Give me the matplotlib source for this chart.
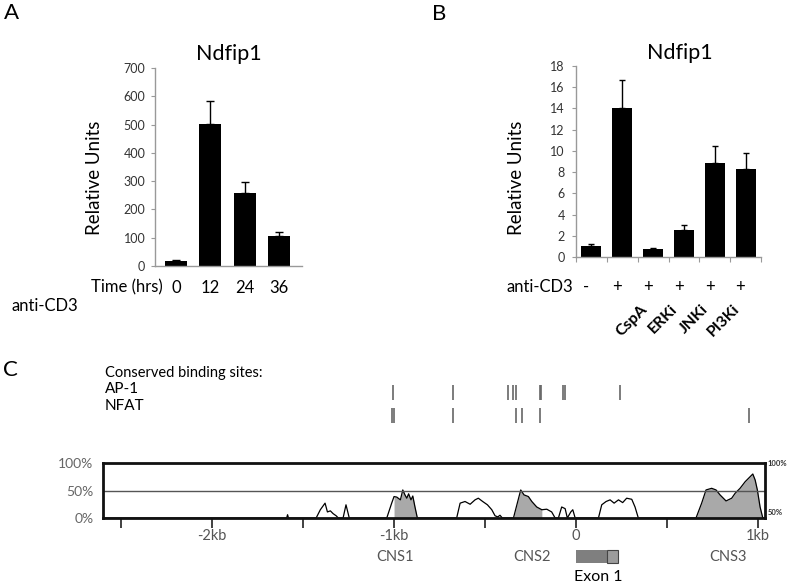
import matplotlib
matplotlib.use("Agg")
import matplotlib.pyplot as plt
from matplotlib.patches import Rectangle
import numpy as np

plt.rcParams['font.family'] = ['Lato', 'DejaVu Sans']

# panel A data
time_labels = ['0', '12', '24', '36']
time_vals = [18, 502, 258, 105]
time_err_top = [20, 582, 298, 120]

# panel B data
cd3_signs = ['-', '+', '+', '+', '+', '+']
inhib_labels = ['', '', 'CspA', 'ERKi', 'JNKi', 'PI3Ki']
inhib_vals = [1.05, 14.05, 0.72, 2.55, 8.85, 8.25]
inhib_err_top = [1.22, 16.7, 0.82, 3.0, 10.5, 9.8]

# panel C data (positions in kb relative to exon 1, conservation in %)
ap1_sites = [-1.004, -0.677, -0.372, -0.345, -0.330, -0.198, -0.193, -0.073, -0.060, 0.242]
nfat_sites = [-1.011, -1.0, -0.674, -0.330, -0.298, -0.198, 0.952]
cons_kb = [-2.6, -1.59, -1.585, -1.58, -1.428, -1.405, -1.379, -1.366, -1.35, -1.335,
           -1.318, -1.306, -1.28, -1.264, -1.246, -1.04, -1.013, -1.0, -0.985, -0.965,
           -0.952, -0.94, -0.93, -0.92, -0.907, -0.897, -0.885, -0.872, -0.656, -0.637,
           -0.61, -0.582, -0.555, -0.537, -0.513, -0.487, -0.463, -0.445, -0.43, -0.418,
           -0.405, -0.344, -0.304, -0.286, -0.262, -0.243, -0.216, -0.188, -0.161, -0.134,
           -0.115, -0.097, -0.079, -0.06, -0.048, -0.029, -0.018, -0.005, 0.123, 0.141,
           0.165, 0.187, 0.209, 0.233, 0.256, 0.278, 0.306, 0.324, 0.342, 0.659,
           0.69, 0.714, 0.745, 0.769, 0.791, 0.824, 0.855, 0.874, 0.901, 0.929,
           0.956, 0.971, 0.984, 0.996, 1.011, 1.026, 1.038]
cons_pct = [0, 0, 6, 0, 0, 15, 27, 11, 13, 8,
            4, 0, 0, 24, 0, 0, 27, 39, 38, 33,
            51, 42, 36, 44, 33, 40, 20, 0, 0, 27,
            30, 25, 33, 36, 30, 24, 15, 4, 2, 5,
            0, 0, 51, 42, 39, 30, 20, 15, 16, 11,
            0, 0, 20, 17, 0, 11, 15, 0, 0, 24,
            30, 33, 27, 33, 28, 36, 34, 20, 0, 0,
            27, 51, 54, 51, 42, 31, 36, 45, 54, 66,
            75, 80, 69, 51, 20, 0, 0]
cns_ranges = [(-1.0, -0.872), (-0.344, -0.188), (0.659, 1.026)]
cns_names = ['CNS1', 'CNS2', 'CNS3']
cns_label_x = [-0.995, -0.242, 0.835]
kb_ticks = [-2.5, -2.0, -1.5, -1.0, -0.5, 0.0, 0.5, 1.0]
kb_labels = ['', '-2kb', '', '-1kb', '', '0', '', '1kb']

W, H = 800, 586
fig = plt.figure(figsize=(8, 5.86), dpi=100)


def rect(l, t, r, b):
    return [l / W, 1 - b / H, (r - l) / W, (b - t) / H]


def ftext(x, y, s, **kw):
    kw.setdefault('ha', 'center')
    kw.setdefault('va', 'center')
    fig.text(x / W, 1 - y / H, s, **kw)


def style_bar_axes(ax):
    for side in ['top', 'right']:
        ax.spines[side].set_visible(False)
    for side in ['left', 'bottom']:
        ax.spines[side].set_color('#999999')
        ax.spines[side].set_linewidth(1)
    ax.tick_params(axis='y', length=3, color='#999999', labelsize=9,
                   labelcolor='#333333', pad=4)


# ---- A ----
ax_a = fig.add_axes(rect(155, 68, 302, 266))
xa = np.arange(len(time_vals))
ax_a.bar(xa, time_vals, width=0.64, color='black')
ax_a.errorbar(xa, time_vals,
              yerr=[np.zeros(len(time_vals)), np.array(time_err_top) - np.array(time_vals)],
              fmt='none', ecolor='black', elinewidth=1, capsize=3, capthick=1)
ax_a.set_xlim(-0.61, 3.66)
ax_a.set_ylim(0, 700)
ax_a.set_yticks(range(0, 701, 100))
ax_a.set_xticks(xa, time_labels)
style_bar_axes(ax_a)
ax_a.tick_params(axis='x', length=0, labelsize=12, pad=10)

ftext(11, 13, 'A', fontsize=16)
ftext(229, 54, 'Ndfip1', fontsize=15.5)
ftext(94, 178, 'Relative Units', fontsize=13.5, rotation=90)
ftext(163, 287, 'Time (hrs)', fontsize=12, ha='right')
ftext(12, 306, 'anti-CD3', fontsize=12, ha='left')

# ---- B ----
ax_b = fig.add_axes(rect(576, 66, 761, 257))
xb = np.arange(len(inhib_vals))
ax_b.bar(xb, inhib_vals, width=0.65, color='black')
ax_b.errorbar(xb, inhib_vals,
              yerr=[np.zeros(len(inhib_vals)), np.array(inhib_err_top) - np.array(inhib_vals)],
              fmt='none', ecolor='black', elinewidth=1, capsize=2.3, capthick=1)
ax_b.set_xlim(-0.5, 5.5)
ax_b.set_ylim(0, 18)
ax_b.set_yticks(range(0, 19, 2))
ax_b.set_xticks(np.arange(-0.5, 6, 1))
ax_b.set_xticklabels([])
style_bar_axes(ax_b)
ax_b.tick_params(axis='x', length=3.5, color='#999999')
ax_b.tick_params(axis='y', pad=5)
for i in range(len(xb)):
    ax_b.text(i - 0.17, -0.158, cd3_signs[i], transform=ax_b.get_xaxis_transform(),
              ha='center', va='center', fontsize=12)
    if inhib_labels[i]:
        ax_b.text(i - 0.27, -0.262, inhib_labels[i], transform=ax_b.get_xaxis_transform(),
                  ha='right', va='center', rotation=45, rotation_mode='anchor',
                  fontsize=11.5, fontweight='bold')

ftext(439, 14, 'B', fontsize=16)
ftext(680, 53, 'Ndfip1', fontsize=15.5)
ftext(517, 178, 'Relative Units', fontsize=13.5, rotation=90)
ftext(573, 287, 'anti-CD3', fontsize=12, ha='right')

# ---- C ----
ftext(10, 370, 'C', fontsize=16)
ftext(105, 373, 'Conserved binding sites:', fontsize=10.5, ha='left')
ftext(105, 389, 'AP-1', fontsize=11, ha='left')
ftext(105, 406, 'NFAT', fontsize=11, ha='left')

ax_c = fig.add_axes(rect(103, 463, 765, 518))
ax_c.set_xlim(-2.599, 1.038)
ax_c.set_ylim(0, 100)
kb = np.array(cons_kb)
pct = np.array(cons_pct)
for lo, hi in cns_ranges:
    m = (kb >= lo) & (kb <= hi)
    ax_c.fill_between(kb[m], 0, pct[m], color='#a9a9a9', linewidth=0)
ax_c.plot(kb, pct, color='black', linewidth=0.9)
ax_c.axhline(50, color='#555555', linewidth=1)
for s in ax_c.spines.values():
    s.set_linewidth(2)
    s.set_color('#111111')
ax_c.set_xticks(kb_ticks, kb_labels)
ax_c.tick_params(axis='x', length=7, width=1.3, color='#333333',
                 labelsize=10.5, labelcolor='#555555', pad=1)
ax_c.set_yticks([0, 50, 100], ['0%', '50%', '100%'])
ax_c.tick_params(axis='y', length=0, labelsize=10, labelcolor='#666666', pad=7)
ax_c.text(1.004, 1.0, '100%', transform=ax_c.transAxes, fontsize=5.5,
          fontweight='bold', va='center', ha='left', color='#333333')
ax_c.text(1.004, 0.1, '50%', transform=ax_c.transAxes, fontsize=5.5,
          fontweight='bold', va='center', ha='left', color='#333333')

# binding site marks above the plot (y in % units, outside the axes)
ax_c.vlines(ap1_sites, 214, 242, color='#666666', linewidth=1.2, clip_on=False)
ax_c.vlines(nfat_sites, 173, 200, color='#666666', linewidth=1.2, clip_on=False)

# CNS labels and exon 1
for name, x in zip(cns_names, cns_label_x):
    ax_c.text(x, -71, name, ha='center', va='center', fontsize=10.5,
              color='#555555', clip_on=False)
ax_c.add_patch(Rectangle((0, -81), 0.172, 23, facecolor='#7f7f7f',
                         edgecolor='none', clip_on=False))
ax_c.add_patch(Rectangle((0.172, -81), 0.06, 23, facecolor='#9c9c9c',
                         edgecolor='#444444', linewidth=0.8, clip_on=False))
ax_c.text(0.121, -107, 'Exon 1', ha='center', va='center', fontsize=11.5, clip_on=False)

fig.savefig('out.png', dpi=100)
